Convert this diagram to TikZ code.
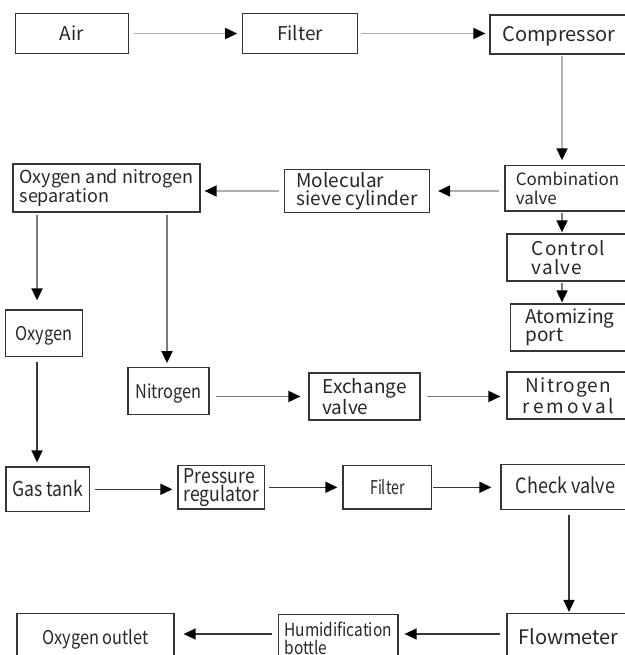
\documentclass[tikz,border=0pt]{standalone}
\usepackage{fontspec}
\setmainfont{Noto Sans CJK SC}
\newfontfamily\narrowfont[FakeStretch=0.86]{Noto Sans CJK SC}
\newfontfamily\condfont[FakeStretch=0.75]{Noto Sans CJK SC}
\newfontfamily\widefont[LetterSpace=6]{Noto Sans CJK SC}
\usetikzlibrary{arrows.meta}
\definecolor{boxline}{HTML}{3A3333}
\definecolor{boxtext}{HTML}{2A2626}
\definecolor{lightflow}{HTML}{B0B0B0}
\definecolor{midflow}{HTML}{7A7A7A}
\definecolor{darkflow}{HTML}{3A3636}

\begin{document}
\begin{tikzpicture}[x=1pt, y=-1pt,
    box/.style={draw=boxline, text=boxtext, line width=1.2pt, inner sep=0pt, align=left,
        font=\fontsize{19}{18.5}\selectfont},
    single/.style={text height=15pt, text depth=1pt},
    narrow/.style={font=\fontsize{#1}{18.5}\narrowfont},
    narrow/.default=19,
    wide/.style={font=\fontsize{19}{18.5}\widefont},
    flow/.style={line width=1.8pt, shorten >=5pt, shorten <=5pt,
        -{Triangle[length=12pt, width=11pt, color=black]}},
    light/.style={flow, draw=lightflow},
    mid/.style={flow, draw=midflow},
    dark/.style={flow, draw=darkflow, line width=1.4pt}
]
    \useasboundingbox (0,0) rectangle (624,655);

    % top row
    \node[box, single, minimum width=112.5pt, minimum height=39.4pt] (air) at (72,33.5) {Air};
    \node[box, single, minimum width=114.5pt, minimum height=39.4pt] (filter) at (300,33.5) {Filter};
    \node[box, single, minimum width=138pt, minimum height=39pt, font=\fontsize{20}{18.5}\selectfont] (comp) at (559,34.5) {Compressor};

    % second row
    \node[box, minimum width=125pt, minimum height=45pt, font=\fontsize{17}{18.5}\selectfont] (comb) at (567.5,188.4) {Combination\\valve};
    \node[box, minimum width=145pt, minimum height=43pt] (sieve) at (357,191) {Molecular\\sieve cylinder};
    \node[box, minimum width=187pt, minimum height=48pt, font=\fontsize{18}{18.5}\selectfont] (sep) at (106.5,188) {Oxygen and nitrogen\\separation};

    % valves on the right
    \node[box, wide, minimum width=123pt, minimum height=47pt] (ctrl) at (568.5,257.5) {Control\\valve};
    \node[box, minimum width=119pt, minimum height=47pt] (atom) at (570,327.5) {Atomizing\\port};

    % oxygen and nitrogen branches
    \node[box, single, narrow, minimum width=77pt, minimum height=46.7pt] (oxy) at (44,333.3) {Oxygen};
    \node[box, single, narrow, minimum width=81pt, minimum height=46.6pt] (nitro) at (168.5,391) {Nitrogen};
    \node[box, minimum width=111pt, minimum height=47pt] (exch) at (364.5,396.5) {Exchange\\valve};
    \node[box, wide, align=center, minimum width=123pt, minimum height=47pt] (nrem) at (568.5,395.5)
        {Nitrogen\\{\addfontfeature{LetterSpace=17}removal}};

    % oxygen line
    \node[box, single, narrow=20.5, minimum width=83.5pt, minimum height=44.7pt] (gas) at (47.75,489.3) {Gas tank};
    \node[box, narrow=20.5, minimum width=86.6pt, minimum height=43.3pt] (preg) at (221.3,487.3) {Pressure\\regulator};
    \node[box, single, minimum width=88.8pt, minimum height=43.3pt, font=\fontsize{19}{18.5}\condfont] (filt) at (387.4,487.3) {Filter};
    \node[box, single, narrow=21, minimum width=129pt, minimum height=45pt] (check) at (565.5,486.8) {Check valve};

    % bottom row
    \node[box, single, minimum width=123pt, minimum height=48pt, font=\fontsize{20}{18.5}\selectfont] (flowm) at (568.5,637.5) {Flowmeter};
    \node[box, narrow=18, minimum width=119.5pt, minimum height=48pt] (humid) at (338.25,638.3) {Humidification\\bottle};
    \node[box, single, narrow, minimum width=157pt, minimum height=48pt] (outlet) at (95.5,637.3) {Oxygen outlet};

    \coordinate (xc) at (562,0);
    \coordinate (xo) at (37,0);
    \coordinate (xn) at (167,0);
    \coordinate (xk) at (569,0);
    \coordinate (yb) at (0,634);

    \draw[light] (air) -- (filter);
    \draw[light, shorten <=3pt, shorten >=4pt] (filter) -- (filter -| comp.west);
    \draw[light, shorten <=1pt] (comp.south -| xc) -- (comb.north -| xc);
    \draw[light, shorten >=8pt] (comb.west |- sieve) -- (sieve);
    \draw[light, shorten >=4pt] (sieve) -- (sieve -| sep.east);

    \draw[mid, shorten <=1pt, shorten >=1pt] (comb.south -| xc) -- (ctrl.north -| xc);
    \draw[mid, shorten <=1pt, shorten >=1pt] (ctrl.south -| xc) -- (atom.north -| xc);

    \draw[mid, shorten <=2pt, shorten >=9pt] (sep.south -| xo) -- (oxy.north -| xo);
    \draw[mid, shorten <=2pt, shorten >=4pt] (sep.south -| xn) -- (nitro.north -| xn);
    \draw[mid, shorten <=6pt, shorten >=8pt] (nitro.east |- exch) -- (exch);
    \draw[mid, shorten <=6pt, shorten >=6pt] (exch) -- (exch -| nrem.west);
    \draw[dark, shorten >=4pt] (oxy.south -| xo) -- (gas.north -| xo);

    \draw[dark] (gas) -- (gas -| preg.west);
    \draw[dark, shorten <=4pt] (preg) -- (filt);
    \draw[dark, shorten <=1pt, shorten >=9pt] (filt) -- (filt -| check.west);
    \draw[dark, shorten >=1pt] (check.south -| xk) -- (flowm.north -| xk);
    \draw[dark, shorten <=6pt, shorten >=6pt] (flowm.west |- yb) -- (humid.east |- yb);
    \draw[dark, shorten <=6pt, shorten >=9pt] (humid.west |- yb) -- (outlet.east |- yb);
\end{tikzpicture}
\end{document}
